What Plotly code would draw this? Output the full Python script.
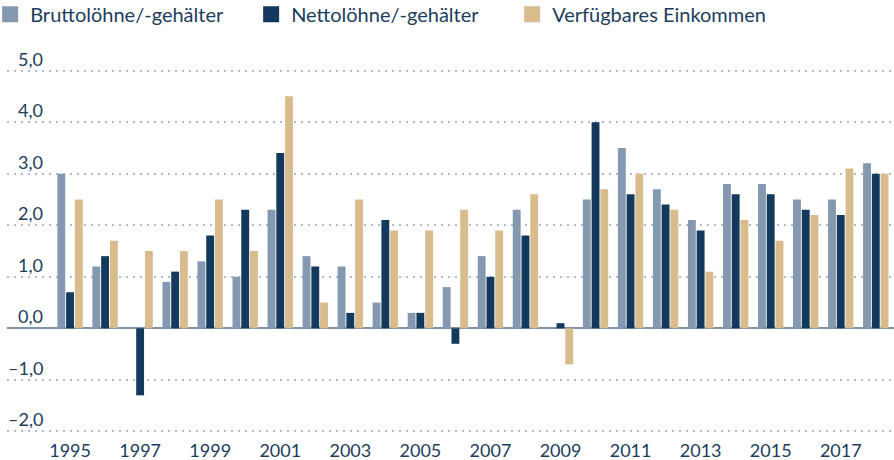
import plotly.graph_objects as go

years = list(range(1995, 2019))
brutto = [3.0, 1.2, 0.0, 0.9, 1.3, 1.0, 2.3, 1.4, 1.2, 0.5, 0.3, 0.8, 1.4, 2.3, 0.0, 2.5, 3.5, 2.7, 2.1, 2.8, 2.8, 2.5, 2.5, 3.2]
netto = [0.7, 1.4, -1.3, 1.1, 1.8, 2.3, 3.4, 1.2, 0.3, 2.1, 0.3, -0.3, 1.0, 1.8, 0.1, 4.0, 2.6, 2.4, 1.9, 2.6, 2.6, 2.3, 2.2, 3.0]
verfuegbar = [2.5, 1.7, 1.5, 1.5, 2.5, 1.5, 4.5, 0.5, 2.5, 1.9, 1.9, 2.3, 1.9, 2.6, -0.7, 2.7, 3.0, 2.3, 1.1, 2.1, 1.7, 2.2, 3.1, 3.0]

series_names = ["Bruttolöhne/-gehälter", "Nettolöhne/-gehälter", "Verfügbares Einkommen"]
colors = ["#8499b0", "#133a5c", "#d8bc8e"]

x_tick_vals = list(range(1995, 2018, 2))
x_tick_text = [str(v) for v in x_tick_vals]
y_tick_vals = [5, 4, 3, 2, 1, 0, -1, -2]
y_tick_text = ["5,0", "4,0", "3,0", "2,0", "1,0", "0,0", "\u20131,0", "\u20132,0"]

FONT = "Lato, 'Source Sans Pro', sans-serif"
TXT = "#1d3d5c"

fig = go.Figure()
for name, vals, col in zip(series_names, [brutto, netto, verfuegbar], colors):
    fig.add_trace(go.Bar(x=years, y=vals, name=name, marker=dict(color=col, line=dict(width=0)),
                         showlegend=False))
for name, col in zip(series_names, colors):
    fig.add_trace(go.Scatter(x=[None], y=[None], mode="markers", name=name,
                             marker=dict(symbol="square", size=16, color=col)))

annotations = []
for v, t in zip(y_tick_vals, y_tick_text):
    annotations.append(dict(x=0.0428, xref="paper", y=v, yref="y", text=t, showarrow=False,
                            xanchor="right", yanchor="bottom", yshift=-1,
                            font=dict(family=FONT, size=18, color=TXT)))

fig.update_layout(
    width=894, height=460,
    margin=dict(l=7, r=0, t=68, b=26, autoexpand=False),
    paper_bgcolor="white", plot_bgcolor="white",
    barmode="group", bargap=0.25, bargroupgap=0.1,
    font=dict(family=FONT, size=18, color=TXT),
    legend=dict(orientation="h", xref="paper", yref="paper", x=-0.019, y=1.2,
                xanchor="left", yanchor="top", font=dict(size=20, color=TXT),
                entrywidth=216, itemwidth=30, tracegroupgap=0),
    annotations=annotations,
    xaxis=dict(range=[1993.2, 2018.52], tickvals=x_tick_vals, ticktext=x_tick_text,
               showgrid=False, zeroline=False, showline=False, ticks="", automargin=False,
               ticklabelstandoff=4, tickfont=dict(size=18, color=TXT)),
    yaxis=dict(range=[-2.05, 5.05], tickvals=y_tick_vals, showticklabels=False, automargin=False,
               showgrid=True, gridcolor="#aebccb", griddash="2px,5px", gridwidth=1.5,
               zeroline=True, zerolinecolor="#7f93a8", zerolinewidth=2),
)

fig.write_html("out.html", config={"displayModeBar": False},
               post_script="document.body.style.margin='0';document.body.style.overflow='hidden';")
